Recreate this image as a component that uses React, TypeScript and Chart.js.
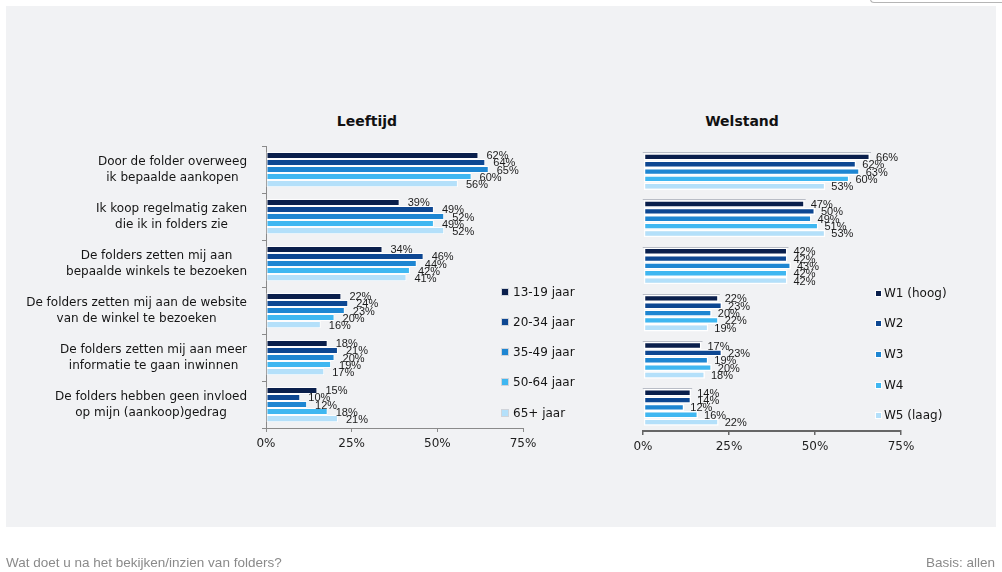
import React, { useEffect, useRef } from 'react';
import { Chart, registerables } from 'chart.js';

Chart.register(...registerables);

const categories: string[][] = [
  ['Door de folder overweeg', 'ik bepaalde aankopen'],
  ['Ik koop regelmatig zaken', 'die ik in folders zie'],
  ['De folders zetten mij aan', 'bepaalde winkels te bezoeken'],
  ['De folders zetten mij aan de website', 'van de winkel te bezoeken'],
  ['De folders zetten mij aan meer', 'informatie te gaan inwinnen'],
  ['De folders hebben geen invloed', 'op mijn (aankoop)gedrag'],
];

const ageLabels = ['13-19 jaar', '20-34 jaar', '35-49 jaar', '50-64 jaar', '65+ jaar'];
const age1319 = [62, 39, 34, 22, 18, 15];
const age2034 = [64, 49, 46, 24, 21, 10];
const age3549 = [65, 52, 44, 23, 20, 12];
const age5064 = [60, 49, 42, 20, 19, 18];
const age65plus = [56, 52, 41, 16, 17, 21];

const welstandLabels = ['W1 (hoog)', 'W2', 'W3', 'W4', 'W5 (laag)'];
const w1 = [66, 47, 42, 22, 17, 14];
const w2 = [62, 50, 42, 23, 23, 14];
const w3 = [63, 49, 43, 20, 19, 12];
const w4 = [60, 51, 42, 22, 20, 16];
const w5 = [53, 53, 42, 19, 18, 22];

const xTicks = [0, 25, 50, 75];

const seriesColors = ['#0a1f4c', '#0d4792', '#1e86d2', '#3fb7f1', '#b4e0fa'];

const FONT = "'DejaVu Sans', sans-serif";

const valueLabelsPlugin = {
  id: 'valueLabels',
  afterDatasetsDraw(chart: any, _args: any, opts: any) {
    const ctx = chart.ctx;
    ctx.save();
    ctx.font = `11px 'Liberation Sans', Arial, sans-serif`;
    ctx.fillStyle = '#1b1b1b';
    ctx.textBaseline = 'middle';
    ctx.textAlign = 'left';
    chart.data.datasets.forEach((ds: any, di: number) => {
      const meta = chart.getDatasetMeta(di);
      meta.data.forEach((bar: any, i: number) => {
        ctx.fillText(ds.data[i] + '%', bar.x + (opts.offset || 8), bar.y + 1);
      });
    });
    ctx.restore();
  },
};

const categoryLabelsPlugin = {
  id: 'categoryLabels',
  afterDraw(chart: any, _args: any, opts: any) {
    if (!opts || !opts.enabled) return;
    const ctx = chart.ctx;
    const yScale = chart.scales.y;
    ctx.save();
    ctx.font = `12px ${FONT}`;
    ctx.fillStyle = '#151515';
    ctx.textBaseline = 'middle';
    ctx.textAlign = 'center';
    categories.forEach((lines, i) => {
      const cy = yScale.getPixelForValue(i);
      const maxW = Math.max(...lines.map((l) => ctx.measureText(l).width));
      const cx = opts.right - maxW / 2;
      lines.forEach((l, j) => {
        ctx.fillText(l, cx, cy + (j - (lines.length - 1) / 2) * 16);
      });
    });
    ctx.restore();
  },
};

const groupTopLinePlugin = {
  id: 'groupTopLine',
  afterDatasetsDraw(chart: any, _args: any, opts: any) {
    if (!opts || !opts.enabled) return;
    const ctx = chart.ctx;
    const meta = chart.getDatasetMeta(0);
    ctx.save();
    ctx.strokeStyle = '#b9bdc6';
    ctx.lineWidth = 1;
    meta.data.forEach((bar: any) => {
      const p = bar.getProps(['x', 'y', 'base', 'height'], true);
      const top = Math.round(p.y - p.height / 2) - 0.5;
      ctx.beginPath();
      ctx.moveTo(p.base - 1, top);
      ctx.lineTo(p.x + 1, top);
      ctx.stroke();
    });
    ctx.restore();
  },
};

function makeConfig(
  seriesLabels: string[],
  series: number[][],
  o: {
    yWidth: number;
    padRight: number;
    padTop: number;
    xHeight: number;
    left: boolean;
  }
): any {
  return {
    type: 'bar',
    data: {
      labels: categories.map((c) => c.join(' ')),
      datasets: series.map((d, i) => ({
        label: seriesLabels[i],
        data: d,
        backgroundColor: seriesColors[i],
        borderColor: o.left ? 'rgba(255,255,255,0.85)' : '#ffffff',
        borderWidth: o.left ? 1 : 1.5,
        borderSkipped: false,
        categoryPercentage: o.left ? 0.75 : 0.78,
        barPercentage: 1,
      })),
    },
    options: {
      indexAxis: 'y',
      responsive: false,
      maintainAspectRatio: false,
      animation: false,
      events: [],
      layout: { padding: { left: 0, right: o.padRight, top: o.padTop, bottom: 0 } },
      plugins: {
        legend: { display: false },
        tooltip: { enabled: false },
        valueLabels: { offset: o.left ? 8 : 6 },
        categoryLabels: { enabled: o.left, right: 247 },
        groupTopLine: { enabled: !o.left },
      },
      scales: {
        x: {
          type: 'linear',
          min: 0,
          max: 75,
          afterBuildTicks: (s: any) => {
            s.ticks = xTicks.map((v) => ({ value: v }));
          },
          ticks: {
            callback: (v: any) => v + '%',
            font: { family: FONT, size: 12 },
            color: '#1e1e1e',
            padding: 5,
            maxRotation: 0,
          },
          grid: {
            drawOnChartArea: false,
            drawTicks: true,
            tickLength: 4,
            color: o.left ? '#8a8a8a' : '#666666',
            lineWidth: o.left ? 1 : 1.5,
          },
          border: { color: o.left ? '#8a8a8a' : '#666666', width: o.left ? 1 : 2 },
          afterFit: (s: any) => {
            s.height = o.xHeight;
          },
        },
        y: {
          type: 'category',
          ticks: { display: false },
          grid: o.left
            ? { drawOnChartArea: false, drawTicks: true, tickLength: 4, color: '#8a8a8a', offset: true }
            : { display: false },
          border: o.left ? { color: '#8a8a8a', width: 1 } : { display: false },
          afterFit: (s: any) => {
            s.width = o.yWidth;
          },
        },
      },
    },
    plugins: [valueLabelsPlugin, categoryLabelsPlugin, groupTopLinePlugin],
  };
}

function ChartCanvas(props: { config: any; left: number; width: number }) {
  const ref = useRef<HTMLCanvasElement | null>(null);
  useEffect(() => {
    if (!ref.current) return;
    const chart = new Chart(ref.current, props.config);
    return () => chart.destroy();
  }, []);
  return (
    <canvas
      ref={ref}
      width={props.width}
      height={572}
      style={{ position: 'absolute', left: props.left, top: 0, width: props.width, height: 572 }}
    />
  );
}

function Legend(props: { labels: string[]; x: number; ys: number[]; boxed: boolean }) {
  return (
    <>
      {props.labels.map((l, i) => (
        <div
          key={l}
          style={{
            position: 'absolute',
            left: props.x,
            top: props.ys[i] - 8,
            height: 16,
            display: 'flex',
            alignItems: 'center',
            fontFamily: FONT,
            fontSize: 12,
            color: '#151515',
            whiteSpace: 'nowrap',
          }}
        >
          <span
            style={{
              display: 'inline-block',
              width: props.boxed ? 5 : 6,
              height: props.boxed ? 5 : 6,
              background: seriesColors[i],
              border: props.boxed ? '1.5px solid #ffffff' : '0.5px solid #d0d4da',
              marginRight: props.boxed ? 2 : 4,
            }}
          />
          {l}
        </div>
      ))}
    </>
  );
}

export default function App() {
  const leftConfig = makeConfig(ageLabels, [age1319, age2034, age3549, age5064, age65plus], {
    yWidth: 266,
    padRight: 600 - 523,
    padTop: 146,
    xHeight: 572 - 428,
    left: true,
  });
  const rightConfig = makeConfig(welstandLabels, [w1, w2, w3, w4, w5], {
    yWidth: 43,
    padRight: 402 - (901 - 600),
    padTop: 148,
    xHeight: 572 - 431,
    left: false,
  });

  return (
    <div
      style={{
        position: 'absolute',
        left: 0,
        top: 0,
        width: 1002,
        height: 572,
        background: '#ffffff',
        overflow: 'hidden',
      }}
    >
      <div
        style={{
          position: 'absolute',
          left: 870,
          top: -4,
          width: 140,
          height: 6,
          borderLeft: '1px solid #b5b5b5',
          borderBottom: '1px solid #b5b5b5',
          borderBottomLeftRadius: 4,
        }}
      />
      <div
        style={{
          position: 'absolute',
          left: 6,
          top: 6,
          width: 990,
          height: 521,
          background: '#f1f2f4',
        }}
      />
      <div
        style={{
          position: 'absolute',
          left: 267,
          width: 200,
          top: 113,
          textAlign: 'center',
          fontFamily: FONT,
          fontWeight: 'bold',
          fontSize: 14,
          color: '#111',
        }}
      >
        Leeftijd
      </div>
      <div
        style={{
          position: 'absolute',
          left: 642,
          width: 200,
          top: 113,
          textAlign: 'center',
          fontFamily: FONT,
          fontWeight: 'bold',
          fontSize: 14,
          color: '#111',
        }}
      >
        Welstand
      </div>
      <ChartCanvas config={leftConfig} left={0} width={600} />
      <ChartCanvas config={rightConfig} left={600} width={402} />
      <Legend labels={ageLabels} x={501} ys={[292, 322, 352, 382, 413]} boxed={false} />
      <Legend labels={welstandLabels} x={875} ys={[293, 323, 354, 385, 415]} boxed={true} />
      <div
        style={{
          position: 'absolute',
          left: 6,
          top: 555,
          fontFamily: "'Liberation Sans', Arial, sans-serif",
          fontSize: 13.5,
          color: '#8a8a8a',
          whiteSpace: 'nowrap',
        }}
      >
        Wat doet u na het bekijken/inzien van folders?
      </div>
      <div
        style={{
          position: 'absolute',
          right: 7,
          top: 555,
          fontFamily: "'Liberation Sans', Arial, sans-serif",
          fontSize: 13.5,
          color: '#8a8a8a',
          whiteSpace: 'nowrap',
        }}
      >
        Basis: allen
      </div>
    </div>
  );
}
